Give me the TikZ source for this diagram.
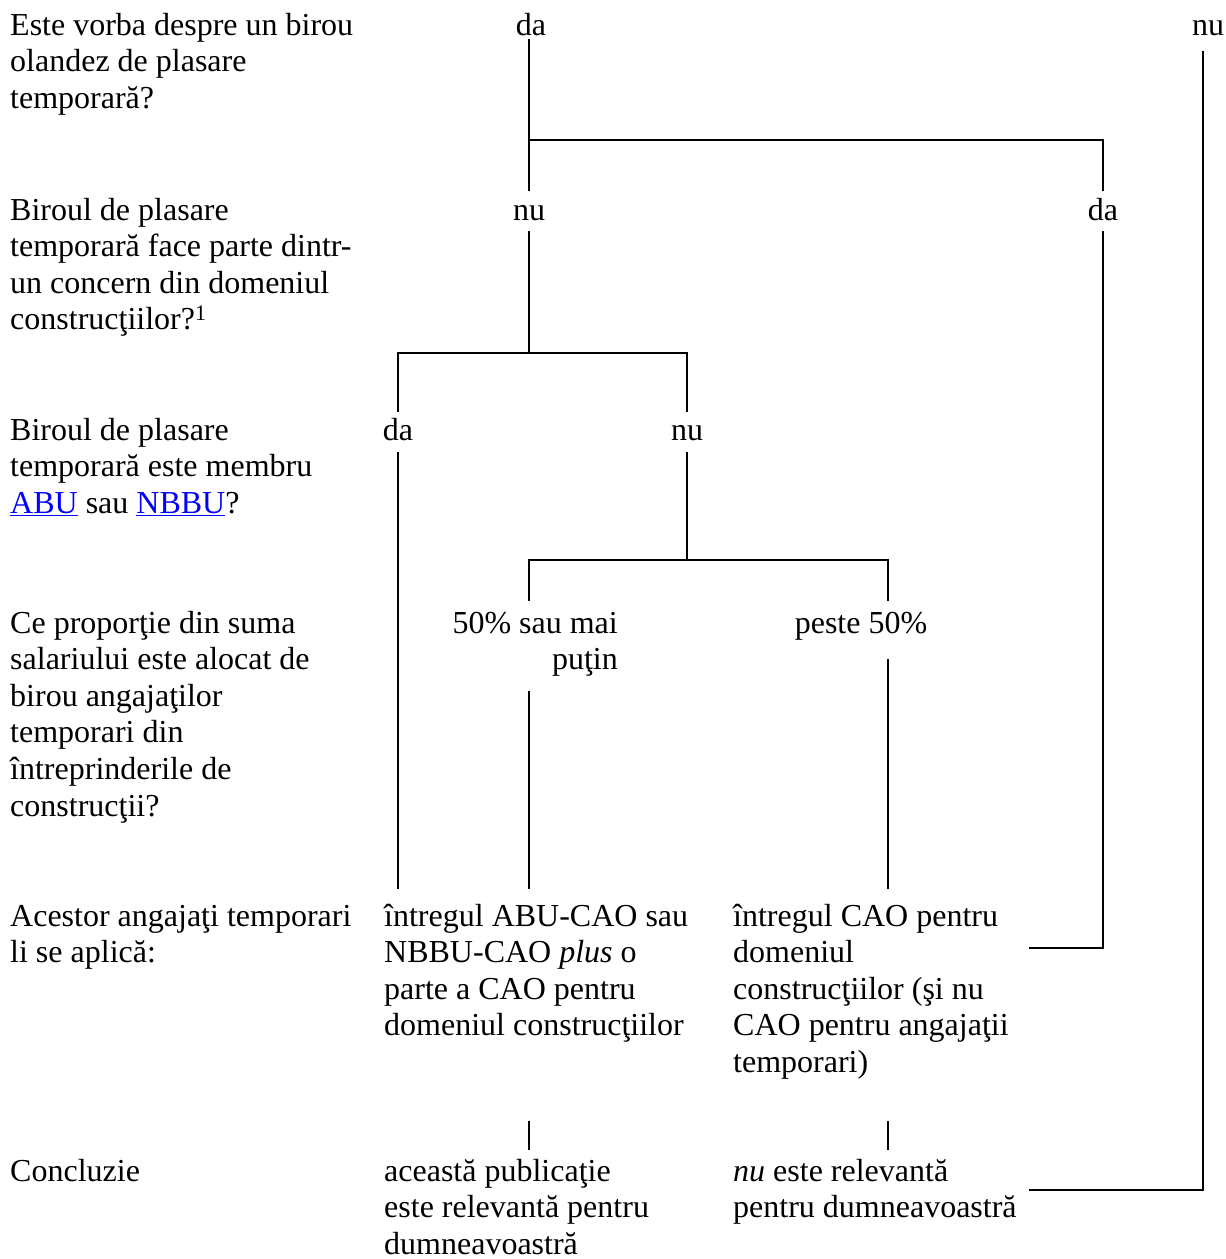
\documentclass[tikz,border=0pt]{standalone}
\usepackage{fontspec}
\setmainfont{Liberation Serif}
\usepackage{xcolor}
\definecolor{linkblue}{RGB}{0,0,255}
\newcommand{\fsz}{\fontsize{32}{36.6}\selectfont}
\newcommand{\lnk}[1]{{\color{linkblue}\underline{#1}}}
\begin{document}
\begin{tikzpicture}[x=1pt,y=-1pt,
  lbl/.style={inner sep=0pt, anchor=base, font=\fsz, text height=23pt, text depth=0pt},
  blk/.style={inner sep=0pt, anchor=north west, align=left, font=\fsz},
  ln/.style={line width=1.6pt, line cap=rect}]
\useasboundingbox (0,0) rectangle (1226,1259);

% left column questions
\node[blk] (q1) at (10,9.3) {\strut Este vorba despre un birou\\olandez de plasare\\temporară?};
\node[blk] (q2) at (10,194.3) {\strut Biroul de plasare\\temporară face parte dintr-\\un concern din domeniul\\construcţiilor?\textsuperscript{\fontsize{22}{24}\selectfont 1}};
\node[blk] (q3) at (10,414.3) {\strut Biroul de plasare\\temporară este membru\\\lnk{ABU} sau \lnk{NBBU}?};
\node[blk] (q4) at (10,607.3) {\strut Ce proporţie din suma\\salariului este alocat de\\birou angajaţilor\\temporari din\\întreprinderile de\\construcţii?};
\node[blk] (q5) at (10,900.3) {\strut Acestor angajaţi temporari\\li se aplică:};
\node[blk] (q6) at (10,1155.3) {\strut Concluzie};

% answers
\node[lbl] (da1) at (531,35) {da};
\node[lbl] (nu1) at (1208,35) {nu};
\node[lbl] (nu2) at (529,220) {nu};
\node[lbl] (da2) at (1103,220) {da};
\node[lbl] (da3) at (398,440) {da};
\node[lbl] (nu3) at (687,440) {nu};
\node[blk, anchor=north east, align=right] (p50) at (618,607.3) {\strut 50\% sau mai\\puţin};
\node[lbl] (pst) at (861,633) {peste 50\%};

% outcomes
\node[blk] (a5) at (384,900.3) {\strut întregul ABU-CAO sau\\NBBU-CAO \textit{plus} o\\parte a CAO pentru\\domeniul construcţiilor};
\node[blk] (b5) at (733,900.3) {\strut întregul CAO pentru\\domeniul\\construcţiilor (şi nu\\CAO pentru angajaţii\\temporari)};
\node[blk] (a6) at (384,1155.3) {\strut această publicaţie\\este relevantă pentru\\dumneavoastră};
\node[blk] (b6) at (733,1155.3) {\strut \textit{nu} este relevantă\\pentru dumneavoastră};

% junction coordinates
\coordinate (j1) at (529,140);
\coordinate (j1r) at (1103,140);
\coordinate (c1) at (1203,1190);
\coordinate (c1e) at (1030,1190);
\coordinate (c2) at (1103,948);
\coordinate (c2e) at (1030,948);
\coordinate (j2) at (529,353);
\coordinate (j2l) at (398,353);
\coordinate (j2r) at (687,353);
\coordinate (j3) at (687,560);
\coordinate (j3l) at (529,560);
\coordinate (j3r) at (888,560);
\coordinate (k1) at (529,1122);
\coordinate (k2) at (888,1122);

% connectors
\draw[ln] ([yshift=-5pt]da1.south -| j1) -- ([yshift=7pt]nu2.north -| j1);
\draw[ln] (j1) -- (j1r) -- ([yshift=7pt]da2.north -| j1r);
\draw[ln] ([yshift=-17pt]nu1.south -| c1) -- (c1) -- (c1e);
\draw[ln] ([yshift=-12pt]da2.south) -- (c2) -- (c2e);
\draw[ln] ([yshift=-12pt]nu2.south) -- (j2);
\draw[ln] ([yshift=6pt]da3.north) -- (j2l) -- (j2r) -- ([yshift=6pt]nu3.north);
\draw[ln] ([yshift=-13pt]da3.south) -- ([yshift=12pt]a5.north -| da3);
\draw[ln] ([yshift=-13pt]nu3.south) -- (j3);
\draw[ln] ([yshift=7pt]p50.north -| j3l) -- (j3l) -- (j3r) -- ([yshift=10pt]pst.north -| j3r);
\draw[ln] ([yshift=-15pt]p50.south -| j3l) -- ([yshift=12pt]a5.north -| j3l);
\draw[ln] ([yshift=-27pt]pst.south -| j3r) -- ([yshift=12pt]b5.north -| j3r);
\draw[ln] (k1) -- ([yshift=6pt]a6.north -| k1);
\draw[ln] (k2) -- ([yshift=6pt]b6.north -| k2);
\end{tikzpicture}
\end{document}
